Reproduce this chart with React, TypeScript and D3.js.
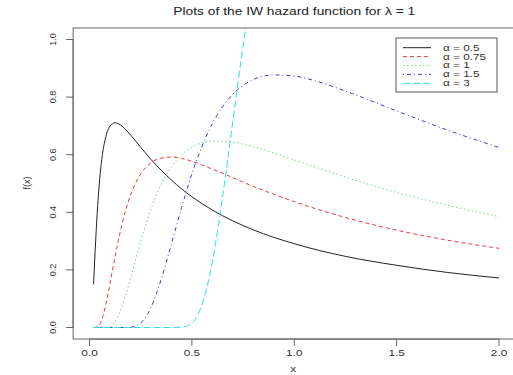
import React from "react";
import * as d3 from "d3";

const W = 513;
const H = 375;

const titleText = "Plots of the IW hazard function for \u03bb = 1";
const xTicks = [0, 0.5, 1, 1.5, 2];
const xTickLabels = ["0.0", "0.5", "1.0", "1.5", "2.0"];
const yTicks = [0, 0.2, 0.4, 0.6, 0.8, 1.0];
const yTickLabels = ["0.0", "0.2", "0.4", "0.6", "0.8", "1.0"];

const legendLabels = ["\u03b1 = 0.5", "\u03b1 = 0.75", "\u03b1 = 1", "\u03b1 = 1.5", "\u03b1 = 3"];

const xA05 = [0.02, 0.025, 0.03, 0.035, 0.04, 0.05, 0.06, 0.08, 0.1, 0.125, 0.15, 0.2, 0.25, 0.3, 0.4, 0.5, 0.6, 0.8, 1.0, 1.25, 1.5, 1.75, 2.0];
const yA05 = [0.15, 0.227, 0.3, 0.366, 0.424, 0.517, 0.584, 0.663, 0.699, 0.711, 0.704, 0.669, 0.626, 0.584, 0.512, 0.454, 0.408, 0.339, 0.291, 0.247, 0.216, 0.191, 0.172];

const xA075 = [0.02, 0.04, 0.06, 0.08, 0.1, 0.125, 0.15, 0.175, 0.2, 0.25, 0.3, 0.35, 0.4, 0.45, 0.5, 0.6, 0.8, 1.0, 1.25, 1.5, 1.75, 2.0];
const yA075 = [0, 0.003, 0.027, 0.081, 0.153, 0.247, 0.332, 0.403, 0.459, 0.533, 0.572, 0.588, 0.592, 0.587, 0.577, 0.55, 0.49, 0.437, 0.382, 0.338, 0.303, 0.275];

const xA1 = [0.02, 0.05, 0.08, 0.1, 0.125, 0.15, 0.175, 0.2, 0.225, 0.25, 0.3, 0.35, 0.4, 0.45, 0.5, 0.6, 0.7, 0.8, 1.0, 1.25, 1.5, 1.75, 2.0];
const yA1 = [0, 0, 0.001, 0.0045, 0.0215, 0.0566, 0.108, 0.17, 0.235, 0.299, 0.411, 0.498, 0.559, 0.6, 0.626, 0.647, 0.643, 0.628, 0.582, 0.522, 0.469, 0.424, 0.385];

const xA15 = [0.02, 0.15, 0.2, 0.25, 0.3, 0.35, 0.4, 0.45, 0.5, 0.55, 0.6, 0.65, 0.7, 0.8, 0.9, 1.0, 1.1, 1.25, 1.5, 1.75, 2.0];
const yA15 = [0, 0, 0.001, 0.016, 0.069, 0.167, 0.29, 0.417, 0.533, 0.63, 0.708, 0.767, 0.81, 0.861, 0.877, 0.873, 0.857, 0.821, 0.752, 0.685, 0.625];

const xA3 = [0.02, 0.4, 0.45, 0.5, 0.525, 0.55, 0.575, 0.6, 0.625, 0.65, 0.675, 0.7, 0.725, 0.75, 0.8];
const yA3 = [0, 0, 0.001, 0.016, 0.039, 0.081, 0.143, 0.228, 0.333, 0.453, 0.582, 0.716, 0.849, 0.977, 1.21];

const seriesX = [xA05, xA075, xA1, xA15, xA3];
const seriesY = [yA05, yA075, yA1, yA15, yA3];
const colors = ["#222222", "#ee3a3a", "#78d078", "#3a3ae8", "#2ee0e0"];
const dashes = ["none", "4,3", "1.5,2.5", "1,3,4,3", "7,3"];

const FONT = "'Liberation Sans', Arial, Helvetica, sans-serif";
const SX = 1.38;

export default function App() {
  const x = d3.scaleLinear().domain([0, 2]).range([89.5, 499]);
  const y = d3.scaleLinear().domain([0, 1]).range([327.5, 39.5]);
  const left = x(-0.08);
  const right = x(2.08);
  const top = y(1.04);
  const bottom = y(-0.04);

  const line = d3
    .line<[number, number]>()
    .x((d) => x(d[0]))
    .y((d) => y(d[1]))
    .curve(d3.curveMonotoneX);

  const legX = 396;
  const legY = 38;
  const legW = 101;
  const legH = 54;
  const rowY = (i: number) => 47.7 + i * 8.9;

  return (
    <svg
      width={W}
      height={H}
      style={{ position: "absolute", left: 0, top: 0, background: "#fff" }}
      fontFamily={FONT}
    >
      <defs>
        <clipPath id="plotclip">
          <rect x={left} y={top} width={right - left} height={bottom - top} />
        </clipPath>
      </defs>
      <rect x={0} y={0} width={W} height={H} fill="#fff" />

      {/* title */}
      <text
        transform={`translate(${(left + right) / 2},15) scale(${SX},1)`}
        textAnchor="middle"
        fontSize={10}
        fill="#222"
      >
        {titleText}
      </text>

      {/* curves */}
      <g clipPath="url(#plotclip)">
        {seriesX.map((xs, i) => {
          const pts = xs.map((v, j) => [v, seriesY[i][j]] as [number, number]);
          return (
            <path
              key={i}
              d={line(pts) || ""}
              fill="none"
              stroke={colors[i]}
              strokeWidth={1}
              strokeDasharray={dashes[i]}
            />
          );
        })}
      </g>

      {/* box */}
      <rect
        x={left}
        y={top}
        width={right - left}
        height={bottom - top}
        fill="none"
        stroke="#666"
        strokeWidth={1}
      />

      {/* x axis */}
      <line x1={x(0)} x2={x(2)} y1={bottom} y2={bottom} stroke="#666" />
      {xTicks.map((t, i) => (
        <g key={t}>
          <line x1={x(t)} x2={x(t)} y1={bottom} y2={bottom + 7} stroke="#666" />
          <text
            transform={`translate(${x(t)},${bottom + 17}) scale(${SX},1)`}
            textAnchor="middle"
            fontSize={8.5}
            fill="#333"
          >
            {xTickLabels[i]}
          </text>
        </g>
      ))}
      <text
        transform={`translate(${(left + right) / 2 - 1},372) scale(${SX},1)`}
        textAnchor="middle"
        fontSize={8.5}
        fill="#333"
      >
        x
      </text>

      {/* y axis */}
      <line x1={left} x2={left} y1={y(0)} y2={y(1)} stroke="#666" />
      {yTicks.map((t, i) => (
        <g key={t}>
          <line x1={left - 7} x2={left} y1={y(t)} y2={y(t)} stroke="#666" />
          <text
            transform={`translate(${left - 20},${y(t)}) rotate(-90)`}
            textAnchor="middle"
            fontSize={9}
            fill="#333"
            dy="0.35em"
          >
            {yTickLabels[i]}
          </text>
        </g>
      ))}
      <text
        transform={`translate(30,183) rotate(-90)`}
        textAnchor="middle"
        fontSize={9}
        fill="#333"
      >
        f(x)
      </text>

      {/* legend */}
      <rect x={legX} y={legY} width={legW} height={legH} fill="#fff" stroke="#555" strokeWidth={1} />
      {legendLabels.map((lab, i) => (
        <g key={lab}>
          <line
            x1={403}
            x2={431}
            y1={rowY(i)}
            y2={rowY(i)}
            stroke={colors[i]}
            strokeWidth={1}
            strokeDasharray={dashes[i]}
          />
          <text
            transform={`translate(443,${rowY(i)}) scale(${SX},1)`}
            fontSize={8.5}
            fill="#333"
            dy="0.35em"
          >
            {lab}
          </text>
        </g>
      ))}
    </svg>
  );
}
